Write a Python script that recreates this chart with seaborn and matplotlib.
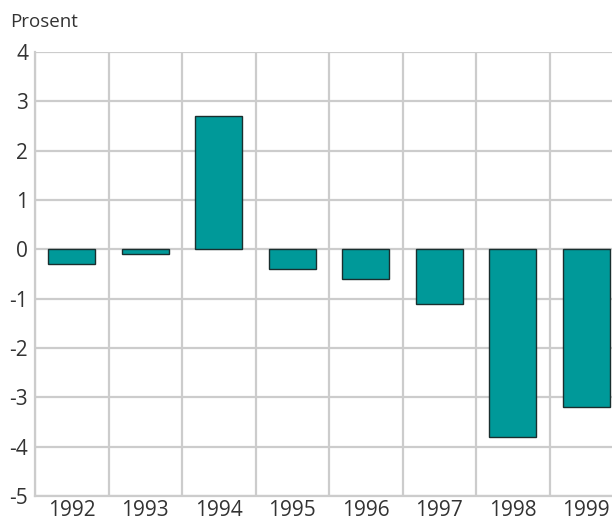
import pandas as pd
import matplotlib.pyplot as plt
import seaborn as sns

# Values (percent)
years = ["1992", "1993", "1994", "1995", "1996", "1997", "1998", "1999"]
values = [-0.3, -0.1, 2.7, -0.4, -0.6, -1.1, -3.8, -3.2]
y_ticks = [-5, -4, -3, -2, -1, 0, 1, 2, 3, 4]

df = pd.DataFrame({"year": years, "value": values})

sns.set_style("white")
plt.rcParams["font.family"] = ["Open Sans", "DejaVu Sans"]

fig = plt.figure(figsize=(6.12, 5.22), dpi=100)
# axes runs slightly past the right edge, as in the original cropped chart
ax = fig.add_axes([35 / 612, 1 - 496 / 522, 588 / 612, 444 / 522])

sns.barplot(data=df, x="year", y="value", color="#009999", width=0.64,
            edgecolor="#1a2e2e", linewidth=1.0, saturation=1, ax=ax, zorder=3)

ax.set_ylim(-5, 4)
ax.set_xlim(-0.5, 7.5)
ax.set_yticks(y_ticks)
ax.set_yticklabels([str(t) for t in y_ticks])

# vertical grid lines sit between the categories
ax.set_xticks([i - 0.5 for i in range(len(years))], minor=True)
ax.grid(True, which="minor", axis="x", color="#cccccc", linewidth=1.6, zorder=0)
ax.grid(True, which="major", axis="y", color="#cccccc", linewidth=1.6, zorder=0)
ax.set_axisbelow(True)

for side in ["top", "right"]:
    ax.spines[side].set_visible(False)
for side in ["left", "bottom"]:
    ax.spines[side].set_color("#cccccc")
    ax.spines[side].set_linewidth(1.6)

ax.tick_params(axis="both", which="both", length=0, labelsize=15, colors="#333333")
ax.tick_params(axis="y", pad=5)
ax.tick_params(axis="x", pad=3)
ax.set_xlabel("")
ax.set_ylabel("")

fig.text(10 / 612, 1 - 22 / 522, "Prosent", fontsize=13.5, color="#333333",
         ha="left", va="center")

fig.savefig("out.png", dpi=100)
